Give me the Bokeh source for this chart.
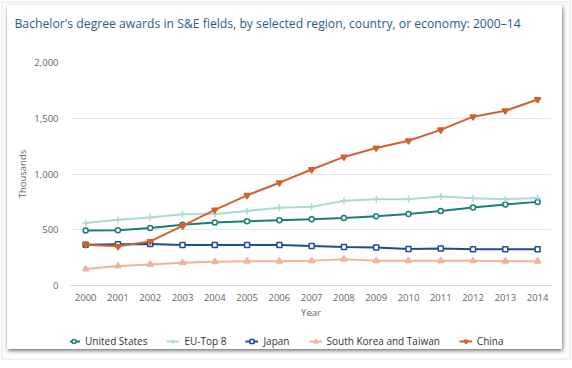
from bokeh.plotting import figure
from bokeh.layouts import column
from bokeh.models import Legend, LegendItem, Title, Range1d, NumeralTickFormatter, FixedTicker
from bokeh.embed import file_html
from bokeh.resources import INLINE

years = list(range(2000, 2015))
us = [493, 495, 515, 545, 564, 576, 585, 594, 605, 620, 641, 668, 700, 727, 750]
eu_top8 = [561, 590, 610, 640, 641, 668, 697, 706, 759, 774, 774, 798, 783, 774, 785]
japan = [366, 369, 372, 363, 363, 363, 363, 355, 346, 340, 328, 332, 325, 325, 325]
sk_tw = [147, 174, 189, 204, 213, 218, 218, 222, 236, 222, 222, 222, 222, 218, 218]
china = [366, 351, 395, 535, 678, 809, 922, 1040, 1153, 1233, 1298, 1396, 1514, 1567, 1668]
y_ticks = [0, 500, 1000, 1500, 2000]

FONT = "Open Sans"
W = 555


def strip(h):
    f = figure(width=W, height=h, output_backend="svg", toolbar_location=None,
               x_axis_location=None, y_axis_location=None,
               x_range=Range1d(0, 1), y_range=Range1d(0, 1), min_border=0)
    f.grid.visible = False
    f.outline_line_color = None
    f.background_fill_color = "white"
    f.border_fill_color = "white"
    return f


# title strip
p0 = strip(35)
p0.add_layout(Title(text="Bachelor's degree awards in S&E fields, by selected region, country, or economy: 2000\u201314",
                    text_font=FONT, text_font_size="12.2px", text_font_style="normal",
                    text_color="#2b5d8b", align="left", offset=-56, standoff=18), "above")

# main chart
p = figure(width=W, height=281, output_backend="svg", toolbar_location=None,
           x_range=Range1d(1999.53, 2014.43), y_range=Range1d(0, 2000),
           min_border_left=63, min_border_right=11, min_border_top=22, min_border_bottom=34)
p.outline_line_color = None
p.background_fill_color = "white"
p.border_fill_color = "white"
p.xgrid.grid_line_color = None
p.ygrid.grid_line_color = "#e6e6e6"
p.xaxis.ticker = FixedTicker(ticks=years)
p.yaxis.ticker = FixedTicker(ticks=y_ticks)
p.yaxis.formatter = NumeralTickFormatter(format="0,0")
for ax in (p.xaxis, p.yaxis):
    ax.major_label_text_font = FONT
    ax.major_label_text_font_size = "9.5px"
    ax.major_label_text_color = "#666666"
    ax.axis_label_text_font = FONT
    ax.axis_label_text_font_size = "9.5px"
    ax.axis_label_text_font_style = "normal"
    ax.axis_label_text_color = "#666666"
    ax.minor_tick_line_color = None
p.yaxis.axis_line_color = None
p.yaxis.major_tick_line_color = None
p.yaxis.major_label_standoff = 6
p.yaxis.axis_label = "Thousands"
p.yaxis.axis_label_standoff = 2
p.xaxis.axis_line_color = "#ccd6eb"
p.xaxis.major_tick_line_color = None
p.xaxis.major_label_standoff = 2
p.xaxis.axis_label = "Year"
p.xaxis.axis_label_standoff = 2

series = [
    ("United States", us, "#1b7d78", "circle", "white", 5),
    ("EU-Top 8", eu_top8, "#a9dad8", "cross", "#a9dad8", 7),
    ("Japan", japan, "#1f4e8c", "square", "white", 5),
    ("South Korea and Taiwan", sk_tw, "#f0b49c", "triangle", "#f0b49c", 6),
    ("China", china, "#d4602c", "inverted_triangle", "#d4602c", 6),
]
for name, vals, col, mk, fill, sz in series:
    p.line(years, vals, line_color=col, line_width=2)
    p.scatter(years, vals, marker=mk, size=sz, line_color=col, fill_color=fill, line_width=1.5)

# legend strip (its glyphs hold the same data, which lies outside this strip's view)
p2 = strip(28)
items = []
for name, vals, col, mk, fill, sz in series:
    ln = p2.line(years, vals, line_color=col, line_width=2)
    sc = p2.scatter(years, vals, marker=mk, size=sz, line_color=col, fill_color=fill, line_width=1.5)
    items.append(LegendItem(label=name, renderers=[ln, sc]))
legend = Legend(items=items, orientation="horizontal", location=(-3, 1),
                label_text_font=FONT, label_text_font_size="10px", label_text_color="#333333",
                glyph_width=13, glyph_height=10, label_standoff=5, spacing=19,
                border_line_color=None, background_fill_alpha=0, padding=0, margin=0)
p2.add_layout(legend, "center")

layout = column(p0, p, p2, spacing=0)
layout.styles = {"margin-top": "5px", "margin-left": "7px",
                 "box-shadow": ("1px 2px 4px rgba(0,0,0,0.5), 0 0 1px rgba(0,0,0,0.25), "
                                "1.5px 3.5px 0 6px white, 1.5px 3.5px 0 7px #e4e4e4")}

open("out.html", "w").write(file_html(layout, INLINE))
